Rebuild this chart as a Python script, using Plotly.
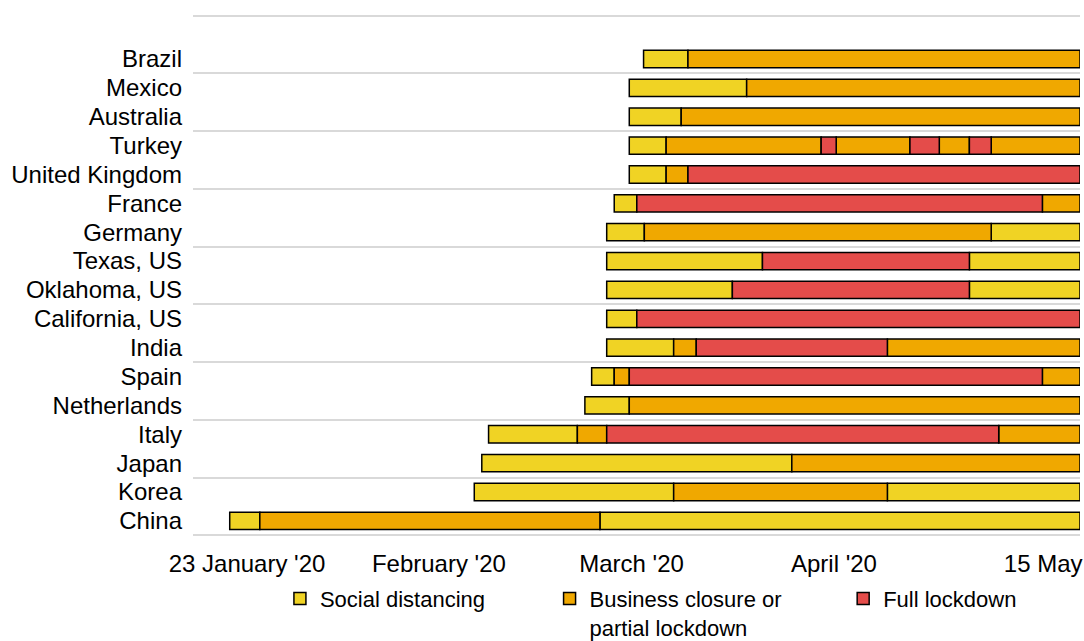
import plotly.graph_objects as go

# Rows, top to bottom
COUNTRIES = ["Brazil", "Mexico", "Australia", "Turkey", "United Kingdom", "France",
             "Germany", "Texas, US", "Oklahoma, US", "California, US", "India", "Spain",
             "Netherlands", "Italy", "Japan", "Korea", "China"]

# Segment boundaries per row, in days since 23 January 2020
BOUNDS = [
    [55.0, 60.9, 113],
    [53.1, 68.7, 113],
    [53.1, 60.0, 113],
    [53.1, 58.0, 78.6, 80.6, 90.4, 94.3, 98.3, 101.2, 113],
    [53.1, 58.0, 60.9, 113],
    [51.1, 54.1, 108.0, 113],
    [50.1, 55.1, 101.2, 113],
    [50.1, 70.8, 98.3, 113],
    [50.1, 66.8, 98.3, 113],
    [50.1, 54.1, 113],
    [50.1, 59.0, 62.0, 87.4, 113],
    [48.1, 51.1, 53.1, 108.0, 113],
    [47.2, 53.1, 113],
    [34.4, 46.2, 50.1, 102.2, 113],
    [33.5, 74.7, 113],
    [32.5, 59.0, 87.4, 113],
    [0.0, 4.0, 49.2, 113],
]
# Phase of each segment: S = social distancing, B = business closure, F = full lockdown
PHASES = ["SB", "SB", "SB", "SBFBFBFB", "SBF", "SFB", "SBS", "SFS", "SFS", "SF",
          "SBFB", "SBFB", "SB", "SBFB", "SB", "SBS", "SBS"]

PHASE_CODES = ["S", "B", "F"]
PHASE_NAMES = ["Social distancing", "Business closure or<br>partial lockdown", "Full lockdown"]
PHASE_COLORS = ["#F0D324", "#F0A800", "#E44C4A"]

TICK_TEXT = ["23 January '20", "February '20", "March '20", "April '20", "15 May"]
TICK_POS = [2.3, 27.8, 53.4, 80.3, 108.1]

n = len(COUNTRIES)
ypos = [n - 1 - i for i in range(n)]

FONT = "Liberation Sans, Arial, sans-serif"
FS = 24
LEGEND_NAMES = ["legend", "legend2", "legend3"]
LEGEND_X = [0.098, 0.402, 0.733]

fig = go.Figure()
for j, code in enumerate(PHASE_CODES):
    ys, bases, lens = [], [], []
    for i, (b, p) in enumerate(zip(BOUNDS, PHASES)):
        for k, ph in enumerate(p):
            if ph == code:
                ys.append(ypos[i])
                bases.append(b[k])
                lens.append(b[k + 1] - b[k])
    fig.add_trace(go.Bar(
        y=ys, x=lens, base=bases, orientation="h", width=0.6,
        name=PHASE_NAMES[j], legend=LEGEND_NAMES[j],
        marker=dict(color=PHASE_COLORS[j], line=dict(color="#000000", width=1.5)),
    ))

legend_common = dict(orientation="h", xanchor="left", y=-0.078, yanchor="top",
                     font=dict(size=22, family=FONT, color="#000000"), valign="top",
                     bgcolor="rgba(0,0,0,0)", borderwidth=0)

fig.update_layout(
    width=1084, height=641,
    margin=dict(l=193, r=4, t=14, b=104, autoexpand=False),
    paper_bgcolor="white", plot_bgcolor="white",
    barmode="overlay",
    font=dict(family=FONT, size=FS, color="#000000"),
    showlegend=True,
    legend=dict(x=LEGEND_X[0], **legend_common),
    legend2=dict(x=LEGEND_X[1], **legend_common),
    legend3=dict(x=LEGEND_X[2], **legend_common),
    xaxis=dict(range=[-4.88, 113.0], tickmode="array", tickvals=TICK_POS,
               ticktext=TICK_TEXT, showgrid=False, zeroline=False, showline=False,
               ticks="", ticklabelstandoff=10, tickfont=dict(size=FS)),
    yaxis=dict(range=[-0.56, 17.56], tickmode="array", tickvals=ypos, ticktext=COUNTRIES,
               showgrid=False, zeroline=False, showline=False, ticks="",
               ticklabelstandoff=10, tickfont=dict(size=FS),
               minor=dict(tick0=-0.5, dtick=2, showgrid=True, gridcolor="#D9D9D9",
                          gridwidth=1.5, ticks="")),
)

fig.write_html("out.html", config={"displayModeBar": False},
               post_script="document.body.style.margin='0';document.body.style.overflow='hidden';")
